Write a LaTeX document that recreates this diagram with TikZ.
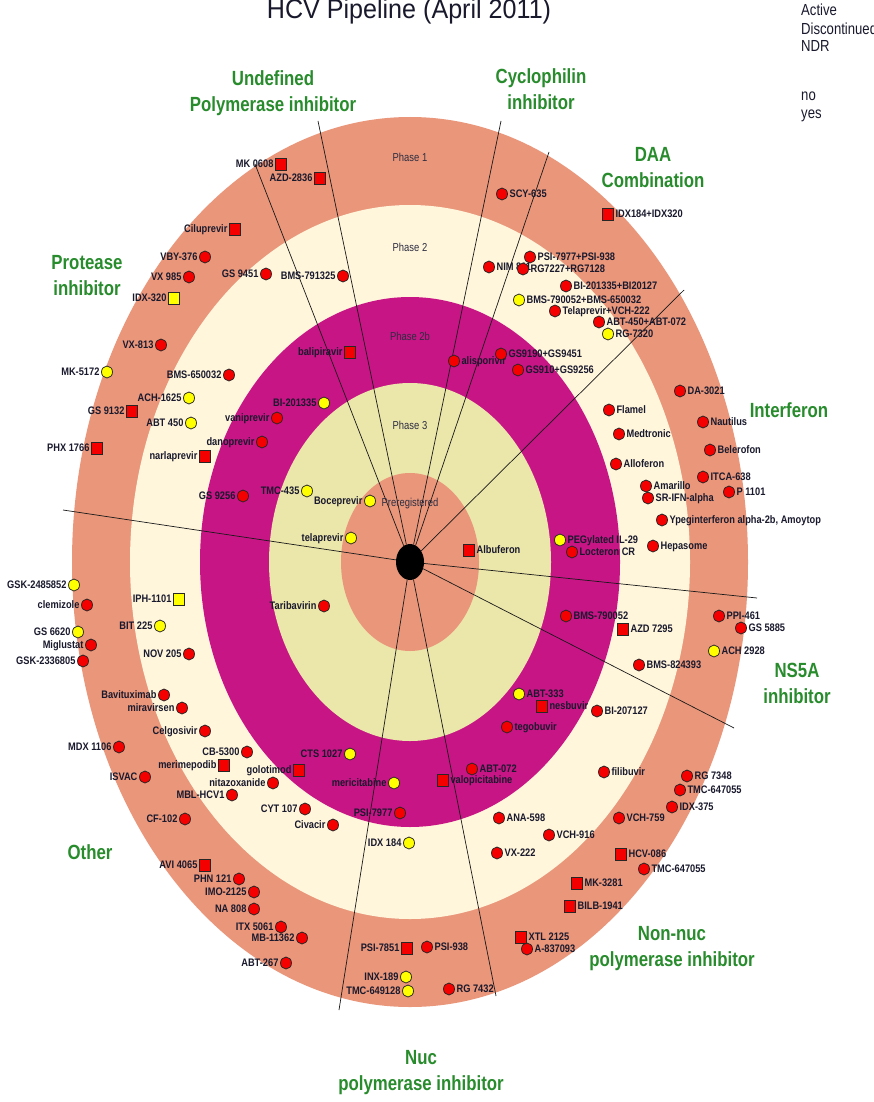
\documentclass[tikz,border=0pt]{standalone}
\usepackage{fontspec}
\setmainfont{Liberation Sans}
\newfontfamily\nar[FakeStretch=0.82]{Liberation Sans}
\newfontfamily\labfont[FakeStretch=0.85]{Liberation Sans}
\newfontfamily\ttlfont[FakeStretch=0.93]{Liberation Sans}
\usetikzlibrary{shapes.geometric}
\definecolor{ringA}{RGB}{233,150,122}
\definecolor{ringB}{RGB}{255,246,220}
\definecolor{ringC}{RGB}{199,21,133}
\definecolor{ringD}{RGB}{235,230,170}
\definecolor{hdr}{RGB}{40,140,45}
\definecolor{labc}{RGB}{25,25,45}
\definecolor{phc}{RGB}{45,45,65}
\definecolor{mkred}{RGB}{245,0,0}
\definecolor{mkyel}{RGB}{255,255,0}
\newcommand\mkL[4]{\node[#1] (#2) at (#3) {}; \node[labL] (#2l) at (#2.west) {#4};}
\newcommand\mkR[4]{\node[#1] (#2) at (#3) {}; \node[labR] (#2l) at (#2.east) {#4};}
\begin{document}
\begin{tikzpicture}[x=1pt,y=-1pt,
  mk/.style={draw=black!85, line width=0.75pt, inner sep=0pt, minimum width=11pt, minimum height=12pt},
  rdot/.style={mk, ellipse, fill=mkred},
  ydot/.style={mk, ellipse, fill=mkyel},
  rsq/.style={mk, rectangle, fill=mkred},
  ysq/.style={mk, rectangle, fill=mkyel},
  lab/.style={inner sep=0pt, text=labc, font=\labfont\bfseries\fontsize{10.9}{12}\selectfont, text height=7.8pt, text depth=0pt},
  labL/.style={lab, anchor=east, xshift=-1.5pt},
  labR/.style={lab, anchor=west, xshift=1.5pt},
  ph/.style={inner sep=0pt, text=phc, font=\nar\fontsize{11.5}{13}\selectfont, text height=8.2pt, text depth=0pt},
  hdrs/.style={inner sep=0pt, align=center, text=hdr, font=\nar\bfseries\fontsize{20.5}{26}\selectfont},
  leg/.style={inner sep=0pt, anchor=west, text=labc, font=\nar\fontsize{16}{18}\selectfont, text height=11.4pt, text depth=0pt},
  radial/.style={draw=black!90, line width=0.7pt}]
\useasboundingbox (0,0) rectangle (874,1102);
\fill[white] (0,0) rectangle (874,1102);
% rings
\fill[ringA] (410,562) ellipse [x radius=338pt, y radius=445pt];
\fill[ringB] (410,562) ellipse [x radius=280pt, y radius=357pt];
\fill[ringC] (410,562) ellipse [x radius=210pt, y radius=265pt];
\fill[ringD] (410,562) ellipse [x radius=141pt, y radius=179pt];
\fill[ringA] (410,562) ellipse [x radius=69pt, y radius=89pt];
% centre and radial separators
\node[ellipse, fill=black, inner sep=0pt, minimum width=28pt, minimum height=36pt] (c) at (410,562) {};
\coordinate (e1) at (255,164);
\coordinate (e2) at (318,121);
\coordinate (e3) at (501,121);
\coordinate (e4) at (549,152);
\coordinate (e5) at (684,290);
\coordinate (e6) at (63,510);
\coordinate (e7) at (757,598);
\coordinate (e8) at (734,728);
\coordinate (e9) at (339,1010);
\coordinate (e10) at (496,996);
\foreach \e in {e1,e2,e3,e4,e5,e6,e7,e8,e9,e10} \draw[radial] (c) -- (\e);
% phase labels
\node[ph] (p1) at (410,157) {Phase 1};
\node[ph] (p2) at (410,247) {Phase 2};
\node[ph] (p3) at (410,336) {Phase 2b};
\node[ph] (p4) at (410,425) {Phase 3};
\node[ph] (p5) at (410,502) {Preregistered};
% left-labelled items
\mkL{rsq}{a1}{281,164}{MK 0608}
\mkL{rsq}{a2}{320,178}{AZD-2836}
\mkL{rsq}{a3}{235,229}{Ciluprevir}
\mkL{rdot}{a4}{205,257}{VBY-376}
\mkL{rdot}{a5}{189,277}{VX 985}
\mkL{rdot}{a6}{266,274}{GS 9451}
\mkL{rdot}{a7}{343,276}{BMS-791325}
\mkL{ysq}{a8}{174,298}{IDX-320}
\mkL{rdot}{a9}{161,345}{VX-813}
\mkL{ydot}{a10}{107,372}{MK-5172}
\mkL{rdot}{a11}{229,375}{BMS-650032}
\mkL{rsq}{a12}{350,352}{balipiravir}
\mkL{ydot}{a13}{189,398}{ACH-1625}
\mkL{rsq}{a14}{132,411}{GS 9132}
\mkL{ydot}{a15}{324,403}{BI-201335}
\mkL{rdot}{a16}{277,418}{vaniprevir}
\mkL{ydot}{a17}{191,423}{ABT 450}
\mkL{rdot}{a18}{262,442}{danoprevir}
\mkL{rsq}{a19}{97,448}{PHX 1766}
\mkL{rsq}{a20}{205,456}{narlaprevir}
\mkL{rdot}{a21}{243,496}{GS 9256}
\mkL{ydot}{a22}{307,491}{TMC-435}
\mkL{ydot}{a23}{370,501}{Boceprevir}
\mkL{ydot}{a24}{351,538}{telaprevir}
\mkL{rdot}{a25}{324,606}{Taribavirin}
\mkL{ydot}{a26}{74,585}{GSK-2485852}
\mkL{rdot}{a27}{87,605}{clemizole}
\mkL{ysq}{a28}{179,599}{IPH-1101}
\mkL{ydot}{a29}{160,626}{BIT 225}
\mkL{ydot}{a30}{78,632}{GS 6620}
\mkL{rdot}{a31}{91,645}{Miglustat}
\mkL{rdot}{a32}{83,661}{GSK-2336805}
\mkL{rdot}{a33}{189,654}{NOV 205}
\mkL{rdot}{a34}{164,695}{Bavituximab}
\mkL{rdot}{a35}{182,708}{miravirsen}
\mkL{rdot}{a36}{205,731}{Celgosivir}
\mkL{rdot}{a37}{119,747}{MDX 1106}
\mkL{rdot}{a38}{247,752}{CB-5300}
\mkL{ydot}{a39}{350,754}{CTS 1027}
\mkL{rsq}{a40}{224,765}{merimepodib}
\mkL{rsq}{a41}{299,770}{golotimod}
\mkL{rdot}{a42}{145,777}{ISVAC}
\mkL{rdot}{a43}{273,783}{nitazoxanide}
\mkL{ydot}{a44}{394,783}{mericitabine}
\mkL{rdot}{a45}{232,795}{MBL-HCV1}
\mkL{rdot}{a46}{305,809}{CYT 107}
\mkL{rdot}{a47}{400,813}{PSI-7977}
\mkL{rdot}{a48}{185,819}{CF-102}
\mkL{rdot}{a49}{333,825}{Civacir}
\mkL{ydot}{a50}{409,843}{IDX 184}
\mkL{rsq}{a51}{205,865}{AVI 4065}
\mkL{rdot}{a52}{239,879}{PHN 121}
\mkL{rdot}{a53}{254,892}{IMO-2125}
\mkL{rdot}{a54}{254,909}{NA 808}
\mkL{rdot}{a55}{281,927}{ITX 5061}
\mkL{rdot}{a56}{302,938}{MB-11362}
\mkL{rsq}{a57}{407,948}{PSI-7851}
\mkL{rdot}{a58}{286,963}{ABT-267}
\mkL{ydot}{a59}{406,977}{INX-189}
\mkL{ydot}{a60}{408,991}{TMC-649128}
% right-labelled items
\mkR{rdot}{b1}{502,194}{SCY-635}
\mkR{rsq}{b2}{608,214}{IDX184+IDX320}
\mkR{rdot}{b3}{530,257}{PSI-7977+PSI-938}
\mkR{rdot}{b4}{489,267}{NIM 811}
\mkR{rdot}{b5}{523,269}{RG7227+RG7128}
\mkR{rdot}{b6}{566,286}{BI-201335+BI20127}
\mkR{ydot}{b7}{519,300}{BMS-790052+BMS-650032}
\mkR{rdot}{b8}{555,311}{Telaprevir+VCH-222}
\mkR{rdot}{b9}{599,322}{ABT-450+ABT-072}
\mkR{ydot}{b10}{608,334}{RG-7320}
\mkR{rdot}{b11}{454,361}{alisporivir}
\mkR{rdot}{b12}{501,354}{GS9190+GS9451}
\mkR{rdot}{b13}{518,370}{GS910+GS9256}
\mkR{rdot}{b14}{680,391}{DA-3021}
\mkR{rdot}{b15}{609,410}{Flamel}
\mkR{rdot}{b16}{703,422}{Nautilus}
\mkR{rdot}{b17}{619,434}{Medtronic}
\mkR{rdot}{b18}{710,450}{Belerofon}
\mkR{rdot}{b19}{616,464}{Alloferon}
\mkR{rdot}{b20}{703,477}{ITCA-638}
\mkR{rdot}{b21}{646,486}{Amarillo}
\mkR{rdot}{b22}{648,498}{SR-IFN-alpha}
\mkR{rdot}{b23}{729,492}{P 1101}
\mkR{rdot}{b24}{662,520}{Ypeginterferon alpha-2b, Amoytop}
\mkR{rdot}{b25}{653,546}{Hepasome}
\mkR{rsq}{b26}{469,550}{Albuferon}
\mkR{ydot}{b27}{560,540}{PEGylated IL-29}
\mkR{rdot}{b28}{572,552}{Locteron CR}
\mkR{rdot}{b29}{566,616}{BMS-790052}
\mkR{rsq}{b30}{623,629}{AZD 7295}
\mkR{rdot}{b31}{719,616}{PPI-461}
\mkR{rdot}{b32}{741,628}{GS 5885}
\mkR{ydot}{b33}{714,651}{ACH 2928}
\mkR{rdot}{b34}{639,665}{BMS-824393}
\mkR{ydot}{b35}{519,694}{ABT-333}
\mkR{rsq}{b36}{542,706}{nesbuvir}
\mkR{rdot}{b37}{597,711}{BI-207127}
\mkR{rdot}{b38}{507,727}{tegobuvir}
\mkR{rdot}{b39}{472,769}{ABT-072}
\mkR{rsq}{b40}{443,780}{valopicitabine}
\mkR{rdot}{b41}{604,772}{filibuvir}
\mkR{rdot}{b42}{687,776}{RG 7348}
\mkR{rdot}{b43}{680,790}{TMC-647055}
\mkR{rdot}{b44}{672,807}{IDX-375}
\mkR{rdot}{b45}{499,818}{ANA-598}
\mkR{rdot}{b46}{619,818}{VCH-759}
\mkR{rdot}{b47}{549,835}{VCH-916}
\mkR{rdot}{b48}{497,853}{VX-222}
\mkR{rsq}{b49}{621,854}{HCV-086}
\mkR{rdot}{b50}{644,869}{TMC-647055}
\mkR{rsq}{b51}{577,883}{MK-3281}
\mkR{rsq}{b52}{570,906}{BILB-1941}
\mkR{rsq}{b53}{521,937}{XTL 2125}
\mkR{rdot}{b54}{527,949}{A-837093}
\mkR{rdot}{b55}{427,947}{PSI-938}
\mkR{rdot}{b56}{449,989}{RG 7432}
% category headers
\node[hdrs] (h1) at (273,93) {Undefined\\Polymerase inhibitor};
\node[hdrs] (h2) at (541,89) {Cyclophilin\\inhibitor};
\node[hdrs] (h3) at (653,168) {DAA\\Combination};
\node[hdrs] (h4) at (87,276) {Protease\\inhibitor};
\node[hdrs] (h5) at (789,410) {Interferon};
\node[hdrs] (h6) at (797,683) {NS5A\\inhibitor};
\node[hdrs] (h7) at (90,852) {Other};
\node[hdrs] (h8) at (672,949) {Non-nuc\\polymerase inhibitor};
\node[hdrs] (h9) at (421,1073) {Nuc\\polymerase inhibitor};
% title and legend
\node[inner sep=0pt, anchor=base, font=\ttlfont\fontsize{27}{30}\selectfont, text=labc] (title) at (409,18.5) {HCV Pipeline (April 2011)};
\node[leg] (g1) at (801,10) {Active};
\node[leg] (g2) at (801,29) {Discontinued};
\node[leg] (g3) at (801,46) {NDR};
\node[leg] (g4) at (801,95) {no};
\node[leg] (g5) at (801,113) {yes};
\end{tikzpicture}
\end{document}
